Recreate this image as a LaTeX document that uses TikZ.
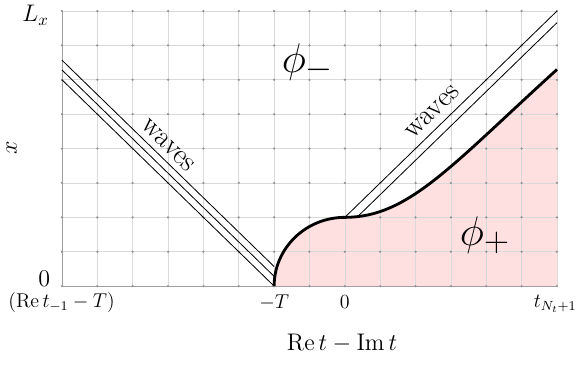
\documentclass[tikz,border=0pt]{standalone}
\usepackage{amsmath,amssymb}
\usepackage{xcolor}
\usetikzlibrary{calc}
\tikzset{
  gline/.style={draw=gray!30,line width=0.4pt},
  gaxis/.style={draw=gray!75,line width=0.5pt},
  gdot/.style={fill=gray!85},
  wline/.style={draw=black,line width=0.5pt},
  fcurve/.style={draw=black,line width=1.7pt},
  tlab/.style={font=\large,inner sep=1pt},
  ylab/.style={font=\Large,inner sep=1pt},
  alab/.style={font=\fontsize{15.8}{18}\selectfont,inner sep=1pt},
  wlab/.style={font=\LARGE,inner sep=1pt},
  plab/.style={font=\Huge,inner sep=1pt},
}
\begin{document}
\begin{tikzpicture}[x=21.22pt,y=20.64pt]
\useasboundingbox (-9.753,-2.355) rectangle (6.764,8.32);
\coordinate (mT) at (-2,0);
\coordinate (kink) at (0,2);
\coordinate (tend) at (6,6.3);
% shaded phi_+ region
\fill[red!12] (mT) .. controls (-2,1.105) and (-1.105,2) .. (kink)
  .. controls (1.8,2) and (3,3.5) .. (tend) -- (6,0) -- cycle;
% grid
\foreach \i in {-7,...,6}
  \draw[gline] (\i,0) -- (\i,8);
\foreach \j in {1,...,8}
  \draw[gline] (-8,\j) -- (6,\j);
\draw[gaxis] (-8,8) -- (-8,0) -- (6,0);
\foreach \i in {-8,...,6}
  \foreach \j in {0,...,8}
    \fill[gdot] (\i,\j) circle[radius=0.75pt];
% waves
\foreach \s in {0,0.285,0.57}
  \draw[wline] (-8,{6+\s}) -- (-2,\s);
\draw[wline] (kink) -- (6,8);
\draw[wline] (0.38,2.04) -- (6,7.66);
% boundary
\draw[fcurve] (mT) .. controls (-2,1.105) and (-1.105,2) .. (kink)
  .. controls (1.8,2) and (3,3.5) .. (tend);
% labels
\node[ylab] (lx) at (-8.75,7.88) {$L_x$};
\node[ylab] (zy) at (-8.5,0.2) {$0$};
\node[tlab] (tl) at (-8.01,-0.47) {$(\operatorname{Re}t_{-1}-T)$};
\node[tlab] (tT) at (-2,-0.47) {$-T$};
\node[tlab] (t0) at (0,-0.47) {$0$};
\node[tlab] (tN) at (5.95,-0.52) {$t_{N_t+1}$};
\node[alab] (xl) at (-0.08,-1.66) {$\operatorname{Re}t-\operatorname{Im}t$};
\node[alab,rotate=90] (yl) at (-9.42,4.01) {$x$};
\node[plab] (pm) at (-1.05,6.51) {$\phi_-$};
\node[plab] (pp) at (3.96,1.48) {$\phi_+$};
\node[wlab,rotate=-45] (wl) at (-5,4.1) {waves};
\node[wlab,rotate=45] (wr) at (2.49,5.06) {waves};
\end{tikzpicture}
\end{document}
